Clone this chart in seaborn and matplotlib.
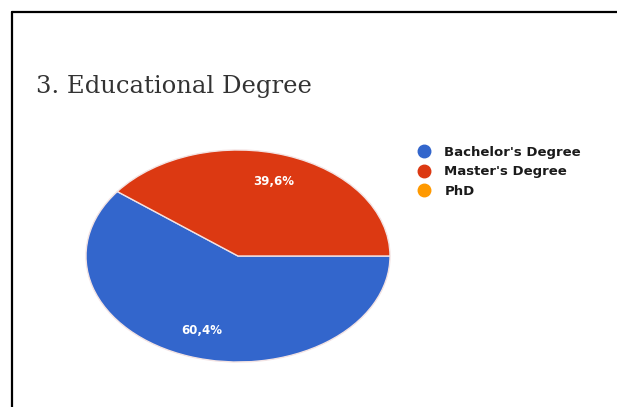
import matplotlib
matplotlib.use("Agg")
import matplotlib.pyplot as plt
import seaborn as sns
import numpy as np
from matplotlib.lines import Line2D

sns.set_theme(style="white")
plt.rcParams['font.family'] = ['DejaVu Sans']

title = "3. Educational Degree"
categories = ["Bachelor's Degree", "Master's Degree", "PhD"]
shares = [60.4, 39.6, 0.0]
colors = ["#3366cc", "#dc3912", "#ff9900"]
pct_labels = ["60,4%", "39,6%", ""]

W, H = 617, 407
fig = plt.figure(figsize=(W / 100, H / 100), dpi=100)
fig.patch.set_facecolor("white")

# pie axes spanning the elliptical area
x0, x1, ytop, ybot = 86, 390, 150, 362
ax = fig.add_axes([x0 / W, 1 - ybot / H, (x1 - x0) / W, (ybot - ytop) / H])

vals = [v for v in shares if v > 0]
cols = [c for v, c in zip(shares, colors) if v > 0]
labs = [l for v, l in zip(shares, pct_labels) if v > 0]
total = sum(vals)
start = 360 * shares[1] / total

wedges, _ = ax.pie(vals, colors=cols, startangle=start, counterclock=True,
                   radius=1.0, wedgeprops=dict(edgecolor="#f3e3e3", linewidth=1.0))
ax.set_aspect("auto")
ax.set_xlim(-1, 1)
ax.set_ylim(-1, 1)
ax.axis("off")

ang = start
for v, lab in zip(vals, labs):
    mid = np.deg2rad(ang + 360 * v / total / 2)
    ax.text(0.74 * np.cos(mid), 0.74 * np.sin(mid), lab, ha="center", va="center",
            color="white", fontsize=8.5, fontweight="bold")
    ang += 360 * v / total

# title
fig.text(36 / W, 1 - 86 / H, title, family=["DejaVu Serif"],
         fontsize=17.5, color="#333333", ha="left", va="center")

# legend
handles = [Line2D([0], [0], marker="o", linestyle="none", markersize=9,
                  markerfacecolor=c, markeredgecolor=c) for c in colors]
fig.legend(handles, categories, loc="upper left",
           bbox_to_anchor=(406 / W, 1 - 134 / H), frameon=False,
           handlelength=1.0, handletextpad=1.0, labelspacing=0.5,
           prop=dict(weight="bold", size=9.5))
for t in fig.legends[0].get_texts():
    t.set_color("#1a1a1a")

# frame lines
fig.add_artist(Line2D([11.5 / W, 11.5 / W], [0, 1 - 11.5 / H], color="black", linewidth=1.6,
                      transform=fig.transFigure))
fig.add_artist(Line2D([11.5 / W, 1], [1 - 11.5 / H, 1 - 11.5 / H], color="black", linewidth=1.6,
                      transform=fig.transFigure))

fig.savefig("out.png", dpi=100, facecolor="white")
